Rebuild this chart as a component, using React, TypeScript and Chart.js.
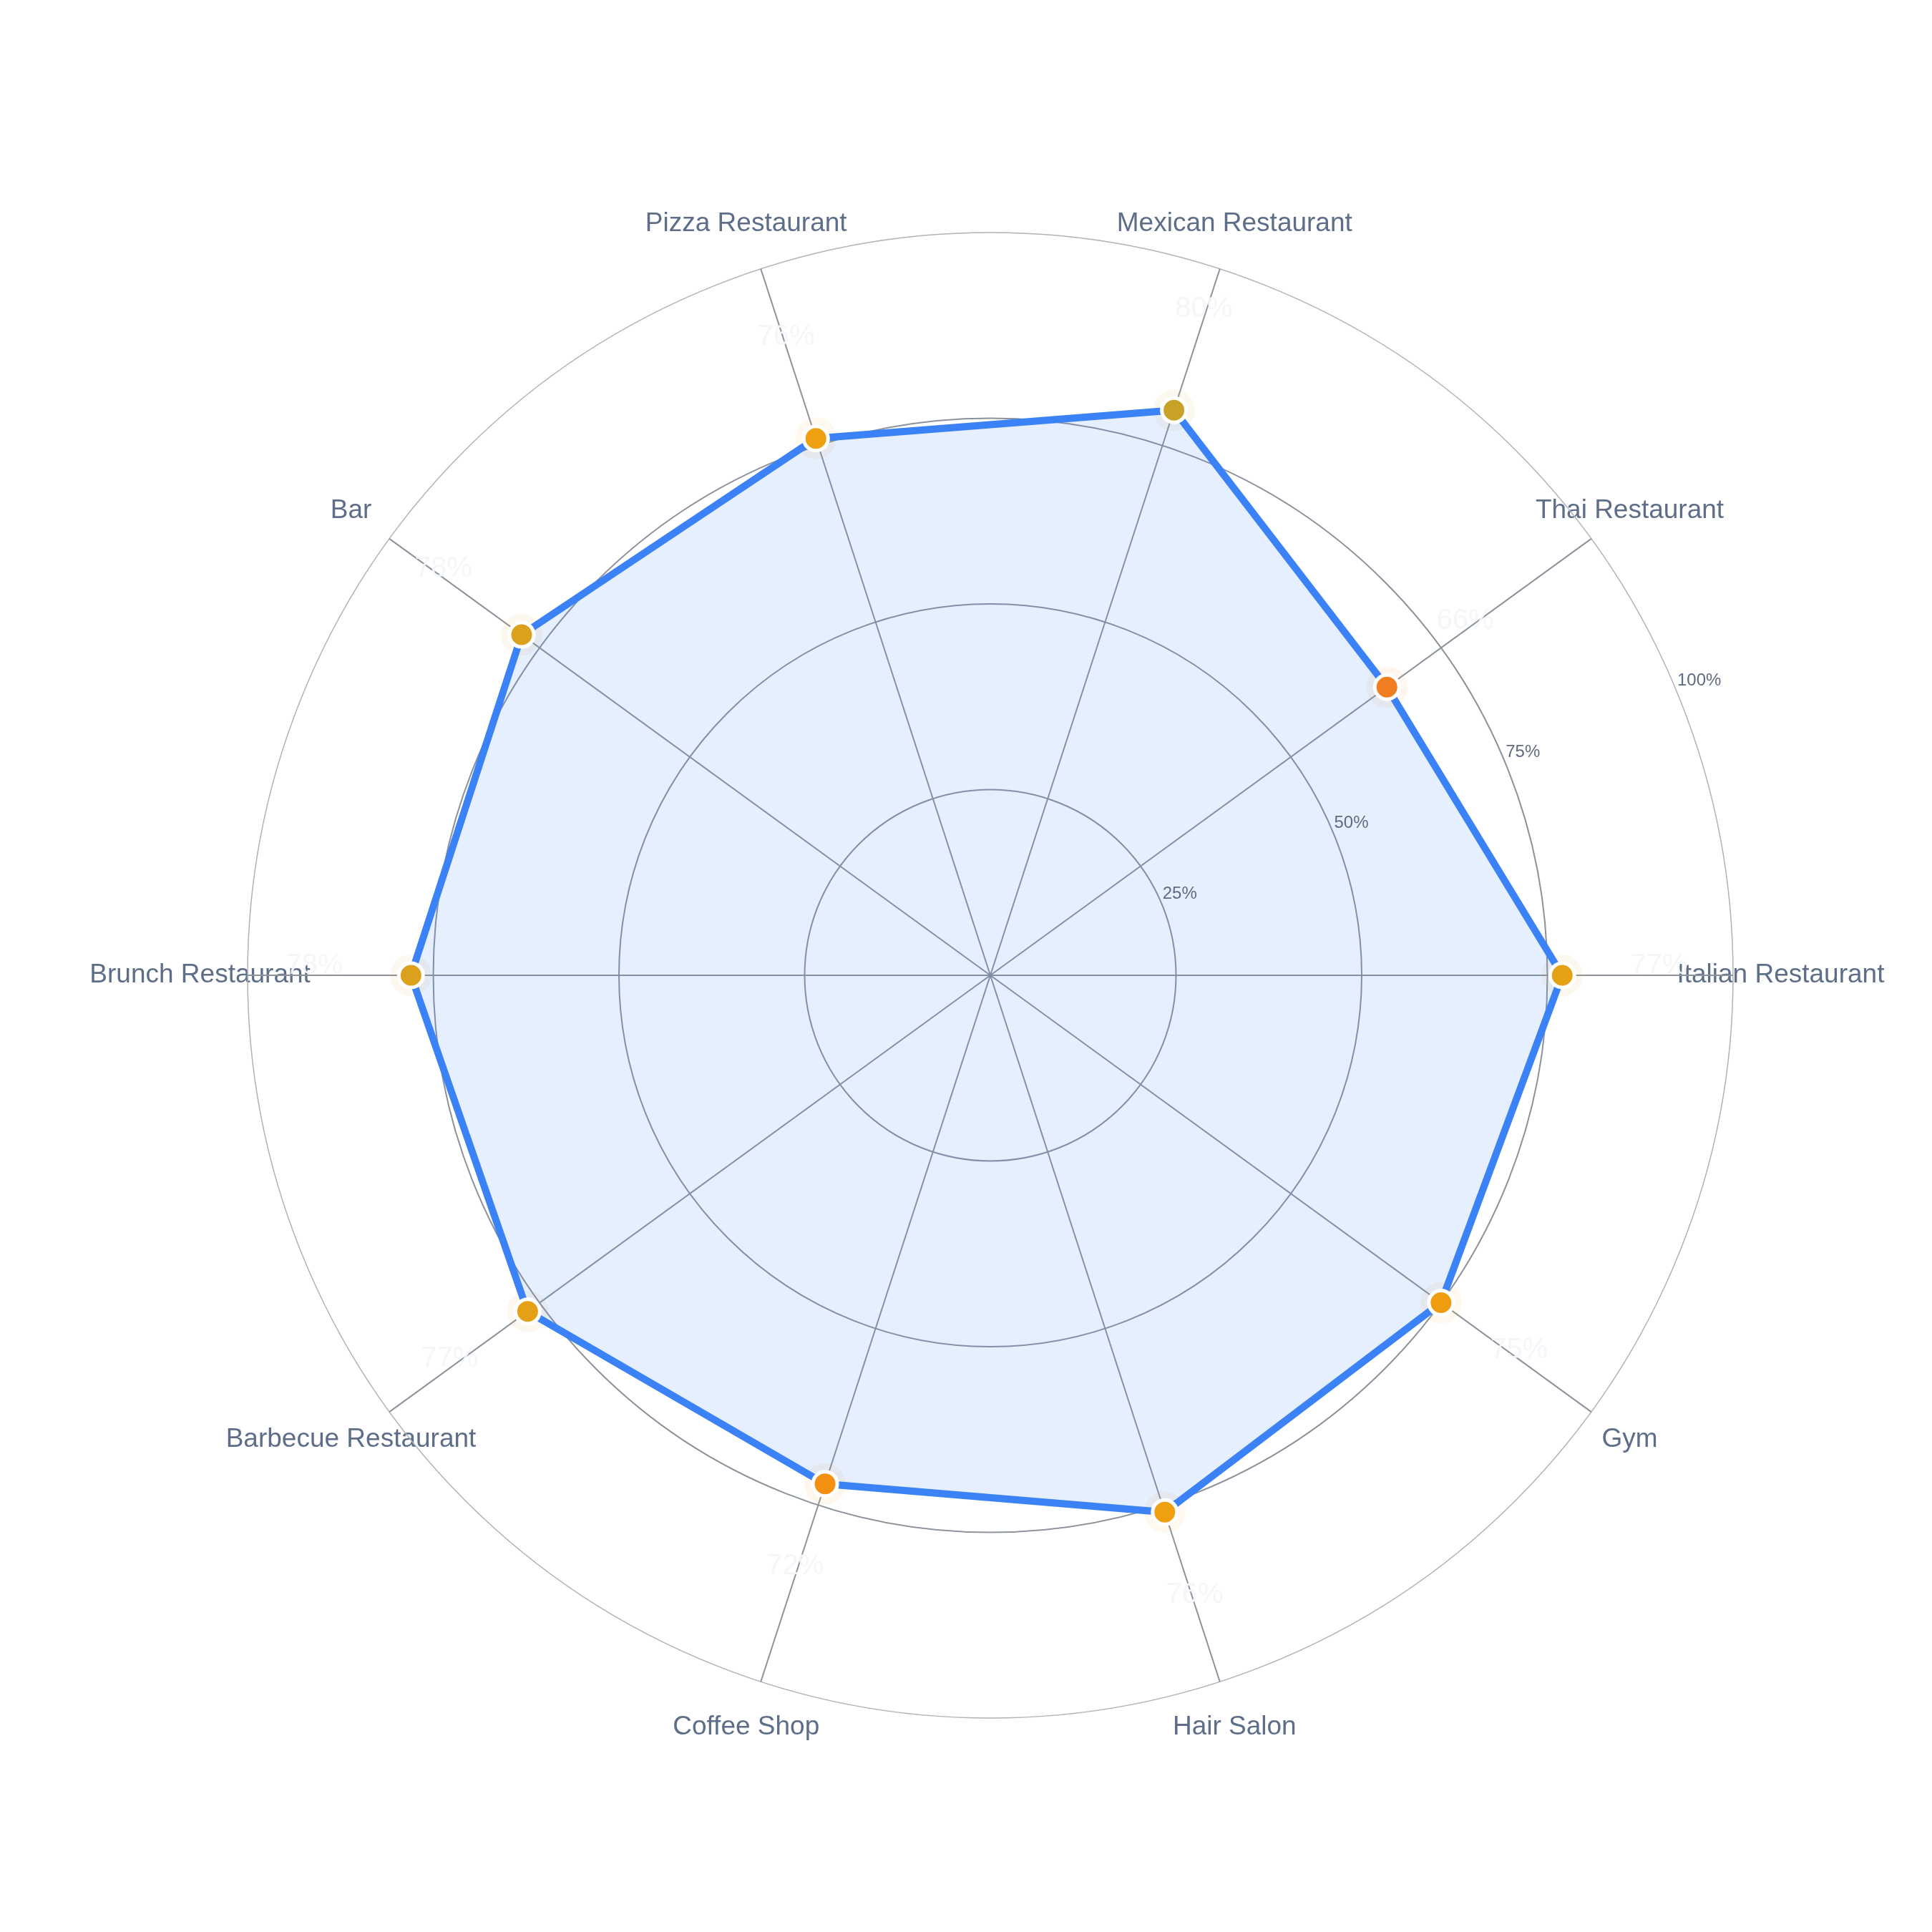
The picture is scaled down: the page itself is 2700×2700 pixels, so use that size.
import React, { useEffect, useRef } from "react"
import { Chart, registerables } from "chart.js"

Chart.register(...registerables)

const categories = [
  "Italian Restaurant",
  "Gym",
  "Hair Salon",
  "Coffee Shop",
  "Barbecue Restaurant",
  "Brunch Restaurant",
  "Bar",
  "Pizza Restaurant",
  "Mexican Restaurant",
  "Thai Restaurant",
]

const scores = [77, 75, 76, 72, 77, 78, 78, 76, 80, 66]

const tickValues = [25, 50, 75, 100]

const FONT = "'Liberation Sans', Arial, Helvetica, sans-serif"

// orange -> gold as the score rises
const colourStops: [number, number[]][] = [
  [65, [240, 122, 34]],
  [72, [243, 144, 18]],
  [76, [238, 160, 16]],
  [80, [200, 162, 40]],
]

function pointColour(v: number, alpha = 1) {
  let c = colourStops[0][1]
  for (let i = 0; i < colourStops.length - 1; i++) {
    const [a, ca] = colourStops[i]
    const [b, cb] = colourStops[i + 1]
    if (v >= a && v <= b) {
      const t = (v - a) / (b - a)
      c = ca.map((x, k) => Math.round(x + (cb[k] - x) * t))
      break
    }
    if (v > b) c = cb
  }
  return `rgba(${c[0]}, ${c[1]}, ${c[2]}, ${alpha})`
}

const labelsPlugin = {
  id: "radarLabels",
  beforeDraw(chart: any) {
    const scale = chart.scales.r
    const ctx = chart.ctx
    const outer = scale.getDistanceFromCenterForValue(100)
    ctx.save()
    ctx.font = `37px ${FONT}`
    ctx.fillStyle = "#5e6e88"
    ctx.textAlign = "center"
    ctx.textBaseline = "middle"
    categories.forEach((c, i) => {
      const p = scale.getPointPosition(i, outer * 1.064)
      ctx.fillText(c, p.x, p.y)
    })
    ctx.restore()
  },
  afterDatasetsDraw(chart: any) {
    const scale = chart.scales.r
    const ctx = chart.ctx
    ctx.save()
    // value labels, almost white
    ctx.font = `40px ${FONT}`
    ctx.fillStyle = "rgba(243, 246, 250, 0.95)"
    ctx.textAlign = "center"
    ctx.textBaseline = "middle"
    scores.forEach((v, i) => {
      const p = scale.getPointPosition(i, scale.getDistanceFromCenterForValue(v) + 135)
      ctx.fillText(`${v}%`, p.x, p.y - 13)
    })
    // radial tick labels at 22.5deg
    ctx.font = `24px ${FONT}`
    ctx.fillStyle = "#5f6b7e"
    ctx.textAlign = "left"
    ctx.textBaseline = "bottom"
    const ang = (-22.5 * Math.PI) / 180
    tickValues.forEach((t) => {
      const d = scale.getDistanceFromCenterForValue(t)
      const x = scale.xCenter + d * Math.cos(ang)
      const y = scale.yCenter + d * Math.sin(ang)
      ctx.fillText(`${t}%`, x + 1, y - 2)
    })
    ctx.restore()
  },
}

const App: React.FC = () => {
  const chartRef = useRef<HTMLCanvasElement | null>(null)
  const chartInstance = useRef<Chart | null>(null)

  useEffect(() => {
    if (!chartRef.current) return
    const ctx = chartRef.current.getContext("2d")
    if (!ctx) return
    if (chartInstance.current) chartInstance.current.destroy()

    chartInstance.current = new Chart(ctx, {
      type: "radar",
      data: {
        labels: categories,
        datasets: [
          {
            label: "Score",
            data: scores,
            borderColor: "#3b82f6",
            borderWidth: 10,
            backgroundColor: "rgba(59, 130, 246, 0.13)",
            fill: true,
            pointRadius: 17,
            pointBorderWidth: 5,
            pointBorderColor: "#ffffff",
            pointBackgroundColor: scores.map((v) => pointColour(v)),
          },
          {
            label: "halo",
            data: scores,
            showLine: false,
            fill: false,
            borderWidth: 0,
            pointRadius: 29,
            pointBorderWidth: 0,
            pointBackgroundColor: scores.map((v) => pointColour(v, 0.07)),
          },
        ],
      },
      options: {
        responsive: true,
        maintainAspectRatio: false,
        animation: false,
        devicePixelRatio: 1,
        layout: { padding: { left: 346, right: 278, top: 325, bottom: 299 } },
        plugins: {
          legend: { display: false },
          tooltip: { enabled: false },
        },
        scales: {
          r: {
            min: 0,
            max: 100,
            startAngle: 90,
            ticks: { display: false, stepSize: 25 },
            pointLabels: { display: false },
            grid: {
              circular: true,
              color: (c: any) => (c.tick && c.tick.value === 100 ? "#aeb2b9" : "#8b929c"),
              lineWidth: (c: any) => (c.tick && c.tick.value === 100 ? 1.5 : 2),
            },
            angleLines: { color: "#8b929c", lineWidth: 2 },
          },
        },
      },
      plugins: [labelsPlugin],
    })

    return () => {
      if (chartInstance.current) {
        chartInstance.current.destroy()
        chartInstance.current = null
      }
    }
  }, [])

  return (
    <div
      style={{
        position: "fixed",
        left: 0,
        top: 0,
        width: 2700,
        height: 2700,
        background: "#ffffff",
      }}
    >
      <canvas ref={chartRef} />
    </div>
  )
}

export default App
